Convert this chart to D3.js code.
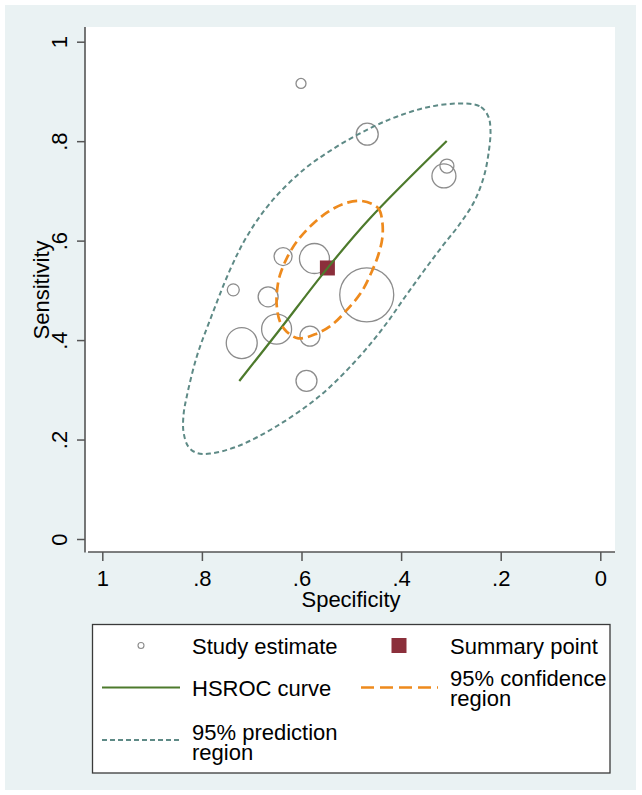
<!DOCTYPE html>
<html><head><meta charset="utf-8">
<script src="https://cdn.jsdelivr.net/npm/d3@7"></script>
<style>
body{margin:0;background:#fff;}
svg{display:block;font-family:"Liberation Sans",Arial,Helvetica,sans-serif;}
</style></head><body>
<svg id="c" width="642" height="795"></svg>
<script>
// ---- data ----
const studySpec   = [0.601,0.468,0.308,0.314,0.637,0.574,0.737,0.667,0.469,0.650,0.720,0.583,0.590];
const studySens   = [0.916,0.814,0.750,0.730,0.568,0.564,0.501,0.487,0.491,0.422,0.394,0.408,0.318];
const studyWeight = [25,121,49,144,81,225,36,100,729,225,240,100,110];

const summarySpec = 0.548;
const summarySens = 0.545;

const hsrocSpec = [0.7249,0.6466,0.5482,0.4624,0.3084];
const hsrocSens = [0.3177,0.4173,0.5443,0.6449,0.8003];

const confSpec = [0.4785,0.4458,0.4378,0.4378,0.4458,0.4590,0.4791,0.5060,0.5394,0.5729,0.6064,0.6297,0.6432,0.6498,0.6486,0.6432,0.6297,0.6096,0.5795,0.5462,0.5127];
const confSens = [0.6797,0.6650,0.6380,0.6047,0.5711,0.5375,0.4973,0.4639,0.4303,0.4116,0.4036,0.4169,0.4370,0.4705,0.5041,0.5309,0.5644,0.5978,0.6314,0.6582,0.6750];

const predSpec = [0.2717,0.2396,0.2245,0.2205,0.2235,0.2335,0.2536,0.2837,0.3199,0.3560,0.3922,0.4303,0.4825,0.5588,0.6492,0.7295,0.7837,0.8098,0.8273,0.8369,0.8369,0.8305,0.8104,0.7837,0.7436,0.7100,0.6633,0.5964,0.5293,0.4624,0.4088,0.3420];
const predSens = [0.8757,0.8687,0.8486,0.8224,0.7822,0.7299,0.6777,0.6314,0.5852,0.5369,0.4866,0.4323,0.3680,0.2916,0.2272,0.1860,0.1719,0.1729,0.1856,0.2152,0.2493,0.2861,0.3666,0.4404,0.5410,0.6079,0.6750,0.7420,0.7889,0.8259,0.8492,0.8693];

const xTicks = [1,0.8,0.6,0.4,0.2,0];
const yTicks = [0,0.2,0.4,0.6,0.8,1];
const xTitle = "Specificity";
const yTitle = "Sensitivity";
const legendLabels = [["Study estimate"],["Summary point"],["HSROC curve"],["95% confidence","region"],["95% prediction","region"]];

// ---- drawing ----
const svg = d3.select("#c");
const C = {bg:"#eaf2f3", axis:"#555555", circ:"#8c8c8c", sq:"#8b2f3b", green:"#4d7a2c", orange:"#ee8a1d", pred:"#5e8a86"};

svg.append("rect").attr("x",0).attr("y",0).attr("width",642).attr("height",795).attr("fill","#fff");
svg.append("rect").attr("x",5).attr("y",5).attr("width",631).attr("height",785).attr("fill",C.bg);
svg.append("rect").attr("x",85).attr("y",27).attr("width",530).attr("height",525).attr("fill","#fff");

const x = d3.scaleLinear().domain([1,0]).range([102.3,600.3]);
const y = d3.scaleLinear().domain([0,1]).range([539,41.7]);
const r = d3.scaleSqrt().domain([0,729]).range([0,27]);
const fmt = v => v===0 ? "0" : v===1 ? "1" : d3.format(".1f")(v).replace(/^0/,"");

// axes
const gy = svg.append("g").attr("transform","translate(85,0)")
  .call(d3.axisLeft(y).tickValues(yTicks).tickFormat(fmt).tickSize(8));
gy.select(".domain").remove();
gy.selectAll(".tick line").attr("stroke",C.axis).attr("stroke-width",1.5);
gy.selectAll(".tick text").attr("x",null).attr("dy",null).attr("y",0)
  .attr("transform","translate(-18,0) rotate(-90)").attr("text-anchor","middle")
  .attr("font-size",22).attr("fill","#000").attr("font-family",null);

const gx = svg.append("g").attr("transform","translate(0,552)")
  .call(d3.axisBottom(x).tickValues(xTicks).tickFormat(fmt).tickSize(9));
gx.select(".domain").remove();
gx.selectAll(".tick line").attr("stroke",C.axis).attr("stroke-width",1.5);
gx.selectAll(".tick text").attr("y",34).attr("dy",null)
  .attr("font-size",22).attr("fill","#000").attr("font-family",null);

svg.append("line").attr("x1",85).attr("x2",85).attr("y1",27).attr("y2",552.5).attr("stroke",C.axis).attr("stroke-width",1.6);
svg.append("line").attr("x1",88).attr("x2",615).attr("y1",552).attr("y2",552).attr("stroke",C.axis).attr("stroke-width",1.6);

svg.append("text").attr("transform","translate(49,290) rotate(-90)").attr("text-anchor","middle")
  .attr("font-size",22).text(yTitle);
svg.append("text").attr("x",351).attr("y",607).attr("text-anchor","middle")
  .attr("font-size",22).text(xTitle);

// study estimates
const studies = studySpec.map((s,i)=>({s, se:studySens[i], w:studyWeight[i]}));
svg.append("g").selectAll("circle").data(studies).join("circle")
  .attr("cx",d=>x(d.s)).attr("cy",d=>y(d.se)).attr("r",d=>r(d.w))
  .attr("fill","none").attr("stroke",C.circ).attr("stroke-width",1.3);

// summary point
svg.append("rect").attr("x",x(summarySpec)-7.5).attr("y",y(summarySens)-7.5)
  .attr("width",15).attr("height",15).attr("fill",C.sq);

// HSROC curve
const pts = (a,b)=>a.map((v,i)=>[x(v),y(b[i])]);
svg.append("path").attr("d",d3.line().curve(d3.curveCatmullRom)(pts(hsrocSpec,hsrocSens)))
  .attr("fill","none").attr("stroke",C.green).attr("stroke-width",2.2);

// confidence region
svg.append("path").attr("d",d3.line().curve(d3.curveCatmullRomClosed)(pts(confSpec,confSens)))
  .attr("fill","none").attr("stroke",C.orange).attr("stroke-width",2.7).attr("stroke-dasharray","10,5");

// prediction region
svg.append("path").attr("d",d3.line().curve(d3.curveCatmullRomClosed)(pts(predSpec,predSens)))
  .attr("fill","none").attr("stroke",C.pred).attr("stroke-width",2).attr("stroke-dasharray","5,3.3");

// legend
svg.append("rect").attr("x",92.5).attr("y",624.5).attr("width",517.5).attr("height",148.5)
  .attr("fill","#fff").attr("stroke","#3a3a3a").attr("stroke-width",1.3);
const lg = svg.append("g").attr("font-size",22).attr("fill","#000");
function ltext(tx, lines, y0){
  const t = lg.append("text").attr("x",tx).attr("y",y0);
  lines.forEach((l,i)=>t.append("tspan").attr("x",tx).attr("y",y0+i*20.5).text(l));
}
lg.append("circle").attr("cx",141).attr("cy",645.5).attr("r",3).attr("fill","none").attr("stroke",C.circ).attr("stroke-width",1.1);
ltext(192, legendLabels[0], 653.5);
lg.append("rect").attr("x",391.5).attr("y",638).attr("width",15).attr("height",15).attr("fill",C.sq);
ltext(450, legendLabels[1], 653.5);
lg.append("line").attr("x1",102).attr("x2",180).attr("y1",687.5).attr("y2",687.5).attr("stroke",C.green).attr("stroke-width",2.2);
ltext(192, legendLabels[2], 696);
lg.append("line").attr("x1",361).attr("x2",438).attr("y1",687.5).attr("y2",687.5).attr("stroke",C.orange).attr("stroke-width",2.5).attr("stroke-dasharray","13,6");
ltext(450, legendLabels[3], 685.5);
lg.append("line").attr("x1",102).attr("x2",180).attr("y1",740).attr("y2",740).attr("stroke",C.pred).attr("stroke-width",1.8).attr("stroke-dasharray","5,3");
ltext(192, legendLabels[4], 739.5);
</script>
</body></html>
